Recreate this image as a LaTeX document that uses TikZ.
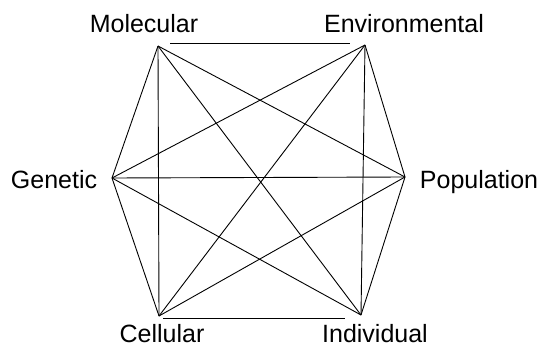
\documentclass[tikz,border=0pt]{standalone}
\usepackage{fontspec}
\setmainfont{Liberation Sans}
\begin{document}
\begin{tikzpicture}[x=1pt,y=-1pt,
  lbl/.style={anchor=base,inner sep=0pt,font=\fontsize{25}{28}\selectfont},
  edge/.style={line width=0.9pt,black}]
\useasboundingbox (0,0) rectangle (542,348);
\fill[white] (0,0) rectangle (542,348);
\node[lbl] (tM) at (144,32) {Molecular};
\node[lbl] (tE) at (404,32) {Environmental};
\node[lbl] (tG) at (54,188) {Genetic};
\node[lbl] (tP) at (479,188) {Population};
\node[lbl] (tC) at (162,342) {Cellular};
\node[lbl] (tI) at (375,342) {Individual};
\coordinate (M) at (158,46);
\coordinate (E) at (365,45);
\coordinate (G) at (112,178);
\coordinate (P) at (405,177);
\coordinate (C) at (159,316);
\coordinate (I) at (361,315);
\draw[edge] (170,43) -- (350,43);
\draw[edge] (163,318) -- (345,318);
\foreach \a/\b in {M/G,M/C,M/I,M/P,E/G,E/C,E/I,E/P,G/C,G/I,G/P,P/C,P/I}
  \draw[edge] (\a) -- (\b);
\end{tikzpicture}
\end{document}
